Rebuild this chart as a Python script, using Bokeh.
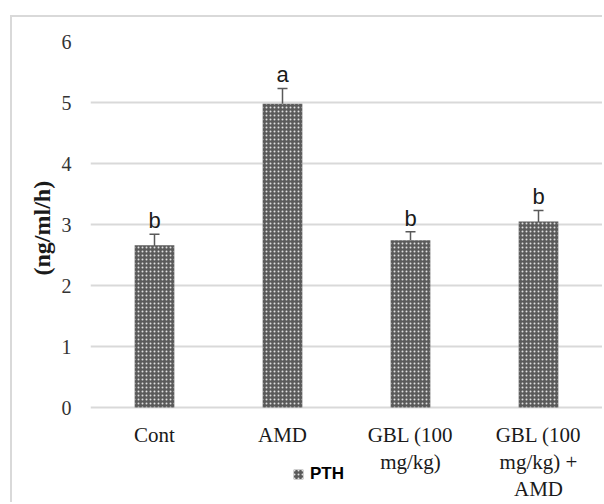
from bokeh.plotting import figure
from bokeh.models import (ColumnDataSource, Whisker, TeeHead, Legend, LegendItem,
                          FixedTicker, Range1d, Title)
from bokeh.embed import file_html
from bokeh.resources import INLINE
from bokeh.core.properties import value

categories = ["Cont", "AMD", "GBL (100 mg/kg)", "GBL (100 mg/kg) + AMD"]
tick_labels = ["Cont", "AMD", "GBL (100\nmg/kg)", "GBL (100\nmg/kg) +\nAMD"]
pth = [2.66, 4.98, 2.74, 3.05]
err = [0.18, 0.25, 0.14, 0.18]
letters = ["b", "a", "b", "b"]
y_ticks = [0, 1, 2, 3, 4, 5, 6]

upper = [v + e for v, e in zip(pth, err)]
lower = [v - e for v, e in zip(pth, err)]
src = ColumnDataSource(dict(cat=categories, pth=pth, upper=upper, lower=lower,
                            letter=letters, tick=tick_labels,
                            base=[0] * len(categories)))

W, H = 592, 487
top_b, bot_b = 24, 2
px_per_unit = 61.0
frame_h = H - top_b - bot_b
y_top = 6
y_bottom = y_top - frame_h / px_per_unit

p = figure(x_range=categories, y_range=Range1d(y_bottom, y_top), width=W, height=H,
           output_backend="svg", toolbar_location=None,
           min_border_left=78, min_border_right=2, min_border_top=top_b,
           min_border_bottom=bot_b)
p.margin = (15, 0, 0, 10)
p.styles = {"border-left": "2px solid #d9d9d9", "border-top": "2px solid #d9d9d9"}
p.outline_line_color = None
p.background_fill_color = "white"
p.border_fill_color = "white"

bars = p.vbar(x="cat", top="pth", width=0.31, source=src,
              fill_color="#5a5a5a", line_color=None,
              hatch_pattern="dot", hatch_color="#e0e0e0", hatch_scale=4,
              hatch_weight=2)

wh = Whisker(base="cat", upper="upper", lower="lower", source=src,
             line_color="#595959", line_width=1.5,
             upper_head=TeeHead(size=10, line_color="#595959", line_width=1.5),
             lower_head=None)
p.add_layout(wh)

p.text(x="cat", y="upper", text="letter", source=src,
       text_font=value("Liberation Sans"), text_font_size="22px",
       text_color="#1a1a1a", text_align="center", text_baseline="bottom",
       y_offset=-1)

# category labels drawn under the zero line
p.text(x="cat", y="base", text="tick", source=src,
       text_font=value("Liberation Serif"), text_font_size="21px",
       text_color="#1a1a1a", text_align="center", text_baseline="top",
       text_line_height=1.13, y_offset=15)

# axes
p.xaxis.visible = False
p.yaxis.ticker = FixedTicker(ticks=y_ticks)
p.yaxis.axis_line_color = None
p.yaxis.major_tick_line_color = None
p.yaxis.minor_tick_line_color = None
p.yaxis.major_label_text_font = "Liberation Serif"
p.yaxis.major_label_text_font_size = "20px"
p.yaxis.major_label_text_color = "#333333"
p.yaxis.major_label_standoff = 13

ytitle = Title(text="(ng/ml/h)", align="left", offset=227,
               text_font="Liberation Serif", text_font_style="bold",
               text_font_size="24px", text_color="#1a1a1a", standoff=7)
p.add_layout(ytitle, "left")

p.xgrid.grid_line_color = None
p.ygrid.grid_line_color = "#d9d9d9"
p.ygrid.grid_line_width = 2
p.ygrid.ticker = FixedTicker(ticks=y_ticks)

legend = Legend(items=[LegendItem(label="PTH", renderers=[bars])],
                location=(202, 18), orientation="horizontal",
                border_line_color=None, background_fill_alpha=0,
                padding=0, margin=0, glyph_width=12, glyph_height=12,
                label_text_font="Liberation Sans",
                label_text_font_style="bold", label_text_font_size="17px",
                label_text_color="#000000", label_standoff=6)
p.add_layout(legend)

open("out.html", "w").write(file_html(p, INLINE))
